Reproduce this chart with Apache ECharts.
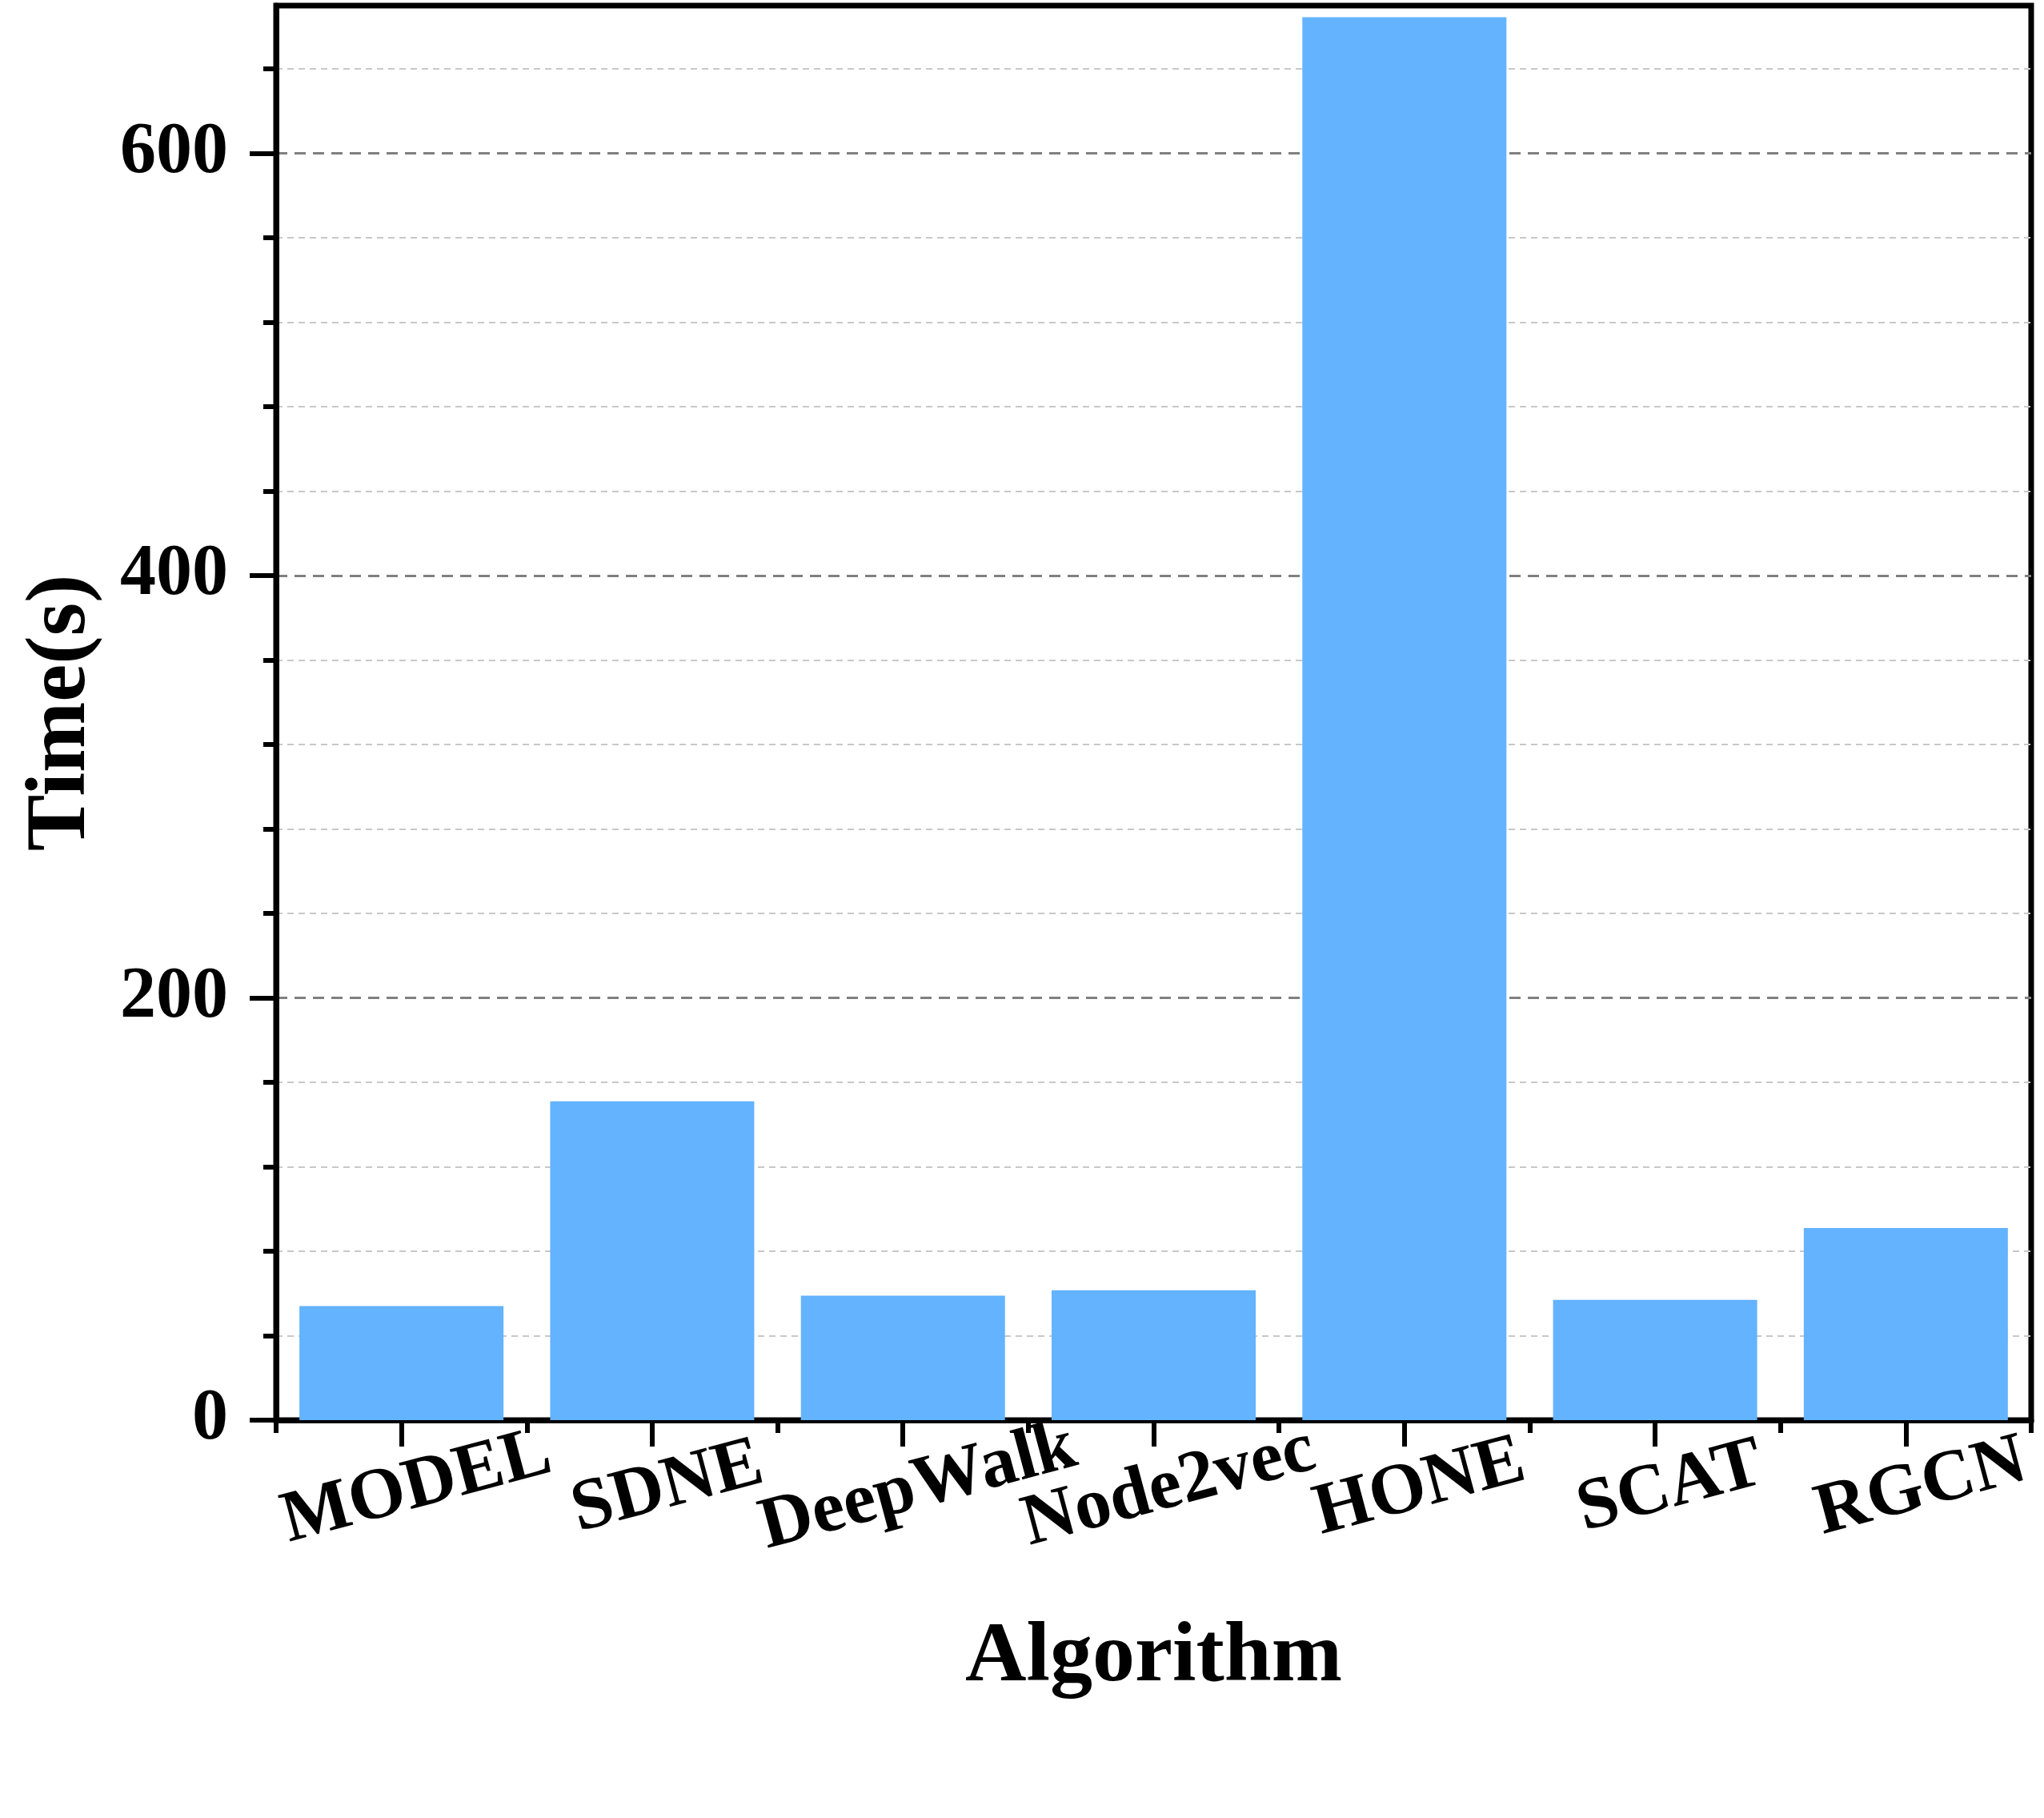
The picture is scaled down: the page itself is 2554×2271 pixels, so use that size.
<!DOCTYPE html>
<html><head><meta charset="utf-8">
<script src="https://cdn.jsdelivr.net/npm/echarts@6/dist/echarts.min.js"></script>
<style>html,body{margin:0;padding:0;background:#fff}#c{width:2554px;height:2271px}</style>
</head><body><div id="c"></div>
<script>
const categories = ['MODEL', 'SDNE', 'DeepWalk', 'Node2vec', 'HONE', 'SCAT', 'RGCN'];
const timeValues = [54, 151, 59, 61.5, 664.5, 57, 91];
const yTickValues = [0, 200, 400, 600];
const yMax = 670;

const FONT = '"Liberation Serif", "Times New Roman", serif';
const LW = 7;
const chart = echarts.init(document.getElementById('c'), null, {renderer: 'canvas'});
chart.setOption({
  animation: false,
  backgroundColor: '#fff',
  grid: {left: 345, right: 16, top: 7, bottom: 497, show: true, borderColor: '#000', borderWidth: LW, backgroundColor: 'transparent'},
  xAxis: [{
    type: 'category', data: categories, position: 'bottom',
    name: 'Algorithm', nameLocation: 'middle', nameGap: 298,
    nameTextStyle: {fontFamily: FONT, fontWeight: 'bold', fontSize: 106, color: '#000', verticalAlign: 'middle'},
    axisLine: {show: true, lineStyle: {color: '#000', width: LW}},
    axisTick: {show: true, alignWithLabel: true, length: 33, lineStyle: {color: '#000', width: 6}},
    axisLabel: {fontFamily: FONT, fontWeight: 'bold', fontSize: 91, color: '#000', rotate: 15, align: 'center', verticalAlign: 'middle', margin: 90, padding: [0, 0, 0, 40], interval: 0},
    splitLine: {show: false}
  }, {
    type: 'category', data: categories, position: 'bottom',
    axisLine: {show: false},
    axisTick: {show: true, alignWithLabel: false, length: 16, lineStyle: {color: '#000', width: 6}},
    axisLabel: {show: false},
    splitLine: {show: false}
  }],
  yAxis: {
    type: 'value', min: 0, max: yMax, interval: 200,
    name: 'Time(s)', nameLocation: 'middle', nameGap: 267,
    nameTextStyle: {fontFamily: FONT, fontWeight: 'bold', fontSize: 106, color: '#000', verticalAlign: 'middle'},
    axisLine: {show: true, lineStyle: {color: '#000', width: LW}},
    axisTick: {show: true, length: 33, customValues: yTickValues, lineStyle: {color: '#000', width: 6}},
    minorTick: {show: true, splitNumber: 5, length: 16, lineStyle: {color: '#000', width: 6}},
    axisLabel: {fontFamily: FONT, fontWeight: 'bold', fontSize: 90, color: '#000', margin: 60, customValues: yTickValues},
    splitLine: {show: true, lineStyle: {color: '#808080', width: 3, type: [14, 9]}},
    minorSplitLine: {show: true, lineStyle: {color: '#c8c8c8', width: 2, type: [8, 6]}}
  },
  series: [{
    type: 'bar', data: timeValues, xAxisIndex: 0, barWidth: '81.4%',
    itemStyle: {color: '#63b3ff'}
  }]
});
</script></body></html>
